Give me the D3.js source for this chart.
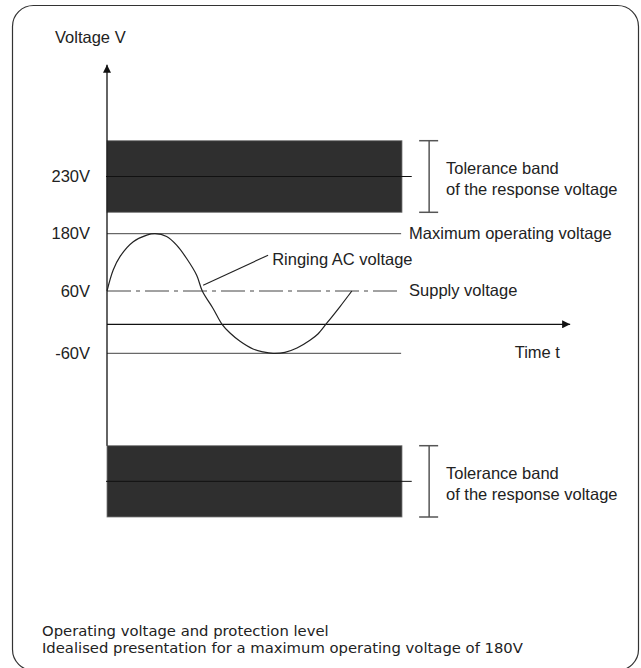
<!DOCTYPE html>
<html>
<head>
<meta charset="utf-8">
<script src="https://cdn.jsdelivr.net/npm/d3@7"></script>
<style>
  body { margin: 0; background: #fff; }
  svg { display: block; }
  text { font-family: "Liberation Sans", Arial, sans-serif; fill: #222; }
  .note { font-family: "DejaVu Sans", sans-serif; }
</style>
</head>
<body>
<svg id="chart" width="641" height="668"></svg>
<script>
// voltage levels shown on the left
var tickValues = [230, 180, 60, -60];
var tickLabels = ["230V", "180V", "60V", "-60V"];

// tolerance bands of the response voltage (V)
var bandLow = [198, -262];
var bandHigh = [262, -198];
var bandMid = [230, -230];

// reference lines
var maxVoltage = 180;
var supplyVoltage = 60;
var negVoltage = -60;

// ringing AC voltage (time in % of band width, voltage in V)
var ringT = [0, 2.1, 4.4, 8.9, 13.5, 16.3, 20.2, 23.6, 27, 30.4, 32.3, 35.9, 39, 41.7, 45.1,
    49.5, 52.9, 56.3, 60.3, 64.4, 68.8, 71.5, 74.5, 79, 83];
var ringV = [60, 104, 132, 163, 177, 180, 174, 156, 128, 93, 60, 29, 0, -18, -35,
    -51, -57, -60, -58, -49, -33, -20, 2, 32, 60];

var rightLabels = ["Maximum operating voltage", "Supply voltage", "Time t"];
var bandText = ["Tolerance band", "of the response voltage"];
var notes = ["Operating voltage and protection level",
    "Idealised presentation for a maximum operating voltage of 180V"];

var svg = d3.select('#chart');

// frame
svg.append("rect")
    .attr("x", 12.5).attr("y", 5.5)
    .attr("width", 626).attr("height", 665)
    .attr("rx", 21).attr("ry", 21)
    .style("fill", "none")
    .style("stroke", "#333")
    .style("stroke-width", 1.2);

var xScale = d3.scaleLinear().domain([0, 100]).range([107, 402]);
// schematic axis: piecewise linear, not to scale
var yScale = d3.scaleLinear()
    .domain([-262, -198, -60, 0, 60, 180, 198, 262])
    .range([517, 445.7, 353.3, 324.3, 291, 233.7, 212.3, 140.7]);

var defs = svg.append("defs");
defs.append("marker")
    .attr("id", "arrow")
    .attr("viewBox", "0 0 10 10")
    .attr("refX", 10).attr("refY", 5)
    .attr("markerWidth", 12).attr("markerHeight", 8)
    .attr("markerUnits", "userSpaceOnUse")
    .attr("orient", "auto")
    .append("path")
    .attr("d", "M0,0 L10,5 L0,10 Z")
    .style("fill", "#111");

// bands
svg.selectAll("rect.band")
    .data(bandLow)
    .enter()
    .append("rect")
    .attr("class", "band")
    .attr("x", xScale(0))
    .attr("y", function(d, i) { return yScale(bandHigh[i]); })
    .attr("width", xScale(100) - xScale(0))
    .attr("height", function(d, i) { return yScale(d) - yScale(bandHigh[i]); })
    .style("fill", "#2f2f2f")
    .style("stroke", "#777")
    .style("stroke-width", 0.8);

// centre lines of the bands
svg.selectAll("line.mid")
    .data(bandMid)
    .enter()
    .append("line")
    .attr("x1", xScale(0) - 1).attr("x2", xScale(103.3))
    .attr("y1", function(d) { return yScale(d); })
    .attr("y2", function(d) { return yScale(d); })
    .style("stroke", "#111")
    .style("stroke-width", 1);

// brackets
var bx = xScale(109.2);
bandLow.forEach(function(lo, i) {
    var g = svg.append("g").style("stroke", "#555").style("stroke-width", 1.5);
    g.append("line").attr("x1", bx).attr("x2", bx)
        .attr("y1", yScale(bandHigh[i])).attr("y2", yScale(lo));
    [bandHigh[i], lo].forEach(function(v) {
        g.append("line").attr("x1", bx - 10).attr("x2", bx + 9)
            .attr("y1", yScale(v)).attr("y2", yScale(v));
    });
    svg.append("text")
        .attr("x", xScale(114.9))
        .attr("y", yScale(bandMid[i]))
        .style("font-size", "16.5px")
        .selectAll("tspan")
        .data(bandText)
        .enter()
        .append("tspan")
        .attr("x", xScale(114.9))
        .attr("dy", function(d, j) { return j === 0 ? "-0.15em" : "1.3em"; })
        .text(function(d) { return d; });
});

// reference lines
[maxVoltage, negVoltage].forEach(function(v) {
    svg.append("line")
        .attr("x1", xScale(0)).attr("x2", xScale(99.7))
        .attr("y1", yScale(v)).attr("y2", yScale(v))
        .style("stroke", "#444").style("stroke-width", 1);
});
svg.append("line")
    .attr("x1", xScale(0)).attr("x2", xScale(99.7))
    .attr("y1", yScale(supplyVoltage)).attr("y2", yScale(supplyVoltage))
    .style("stroke", "#444").style("stroke-width", 1)
    .style("stroke-dasharray", "24,5,4,5");

// axes
svg.append("line")
    .attr("x1", xScale(0)).attr("x2", xScale(0))
    .attr("y1", yScale(-198)).attr("y2", yScale(330))
    .style("stroke", "#111").style("stroke-width", 1.3)
    .attr("marker-end", "url(#arrow)");
svg.append("line")
    .attr("x1", xScale(0)).attr("x2", xScale(157))
    .attr("y1", yScale(0)).attr("y2", yScale(0))
    .style("stroke", "#111").style("stroke-width", 1.3)
    .attr("marker-end", "url(#arrow)");

var yAxis = d3.axisLeft(yScale)
    .tickValues(tickValues)
    .tickFormat(function(d, i) { return tickLabels[i]; })
    .tickSize(0)
    .tickPadding(17);
var ay = svg.append("g")
    .attr("transform", "translate(" + xScale(0) + ",0)")
    .call(yAxis);
ay.select(".domain").remove();
ay.selectAll("text")
    .style("font-family", "Liberation Sans, Arial, sans-serif")
    .style("font-size", "16.5px")
    .style("fill", "#222");

svg.append("text")
    .attr("x", 55).attr("y", 37)
    .attr("dy", "0.35em")
    .style("font-size", "16.5px")
    .text("Voltage V");

// ringing curve
var ring = ringT.map(function(t, i) { return [t, ringV[i]]; });
var line = d3.line()
    .x(function(d) { return xScale(d[0]); })
    .y(function(d) { return yScale(d[1]); })
    .curve(d3.curveCatmullRom.alpha(0.5));
svg.append("path")
    .attr("d", line(ring))
    .style("fill", "none")
    .style("stroke", "#222")
    .style("stroke-width", 1.2);

// leader for the ringing label
svg.append("line")
    .attr("x1", xScale(32.6)).attr("y1", yScale(72))
    .attr("x2", xScale(54.6)).attr("y2", yScale(135))
    .style("stroke", "#222").style("stroke-width", 1.1);
svg.append("text")
    .attr("x", xScale(56)).attr("y", yScale(127))
    .attr("dy", "0.35em")
    .style("font-size", "16.5px")
    .text("Ringing AC voltage");

// right side labels
var labelX = [xScale(102.4), xScale(102.4), xScale(138.2)];
var labelV = [maxVoltage, supplyVoltage, negVoltage];
svg.selectAll("text.rlab")
    .data(rightLabels)
    .enter()
    .append("text")
    .attr("class", "rlab")
    .attr("x", function(d, i) { return labelX[i]; })
    .attr("y", function(d, i) { return yScale(labelV[i]); })
    .attr("dy", "0.3em")
    .style("font-size", "16.5px")
    .text(function(d) { return d; });

// notes
svg.selectAll("text.note")
    .data(notes)
    .enter()
    .append("text")
    .attr("class", "note")
    .attr("x", 42)
    .attr("y", function(d, i) { return 636 + i * 17; })
    .style("font-size", "14.8px")
    .text(function(d) { return d; });
</script>
</body>
</html>
